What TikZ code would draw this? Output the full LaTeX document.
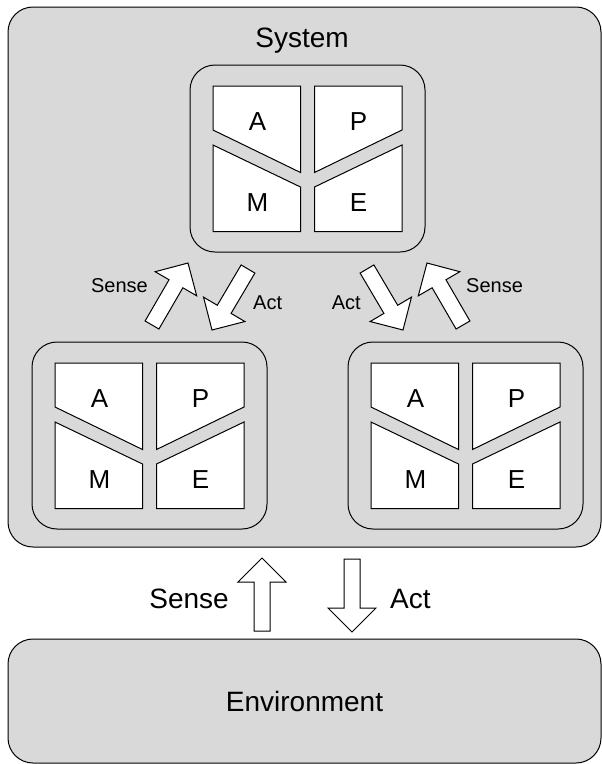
\documentclass[tikz,border=0pt]{standalone}
\usepackage{fontspec}
\setmainfont{Liberation Sans}
\usetikzlibrary{calc}
\definecolor{panel}{gray}{0.85}

\tikzset{
  panelbox/.style={draw=black, fill=panel, line width=1pt, rounded corners=25pt, inner sep=0pt},
  modbox/.style={draw=black, fill=panel, line width=1pt, rounded corners=25pt,
    minimum width=235pt, minimum height=187pt, inner sep=0pt},
  quad/.style={draw=black, fill=white, line width=1pt, line join=miter},
  letter/.style={font=\fontsize{26}{26}\selectfont, anchor=base, inner sep=0pt},
  smalllabel/.style={font=\fontsize{20}{20}\selectfont, inner sep=0pt},
  biglabel/.style={font=\fontsize{28}{28}\selectfont, inner sep=0pt},
  blockarr/.style={draw=black, fill=white, line width=1pt, line join=miter},
}

% one A/P/M/E module: name, left edge, top edge
\newcommand\apmemodule[3]{%
  \begin{scope}[shift={(#2,#3)}]
    \node[modbox] (#1) at (117.5,93.5) {};
    \draw[quad] (23,21) -- (110.5,21) -- (110.5,107.5) -- (23,65) -- cycle;
    \draw[quad] (23,80) -- (110.5,122) -- (110.5,166.5) -- (23,166.5) -- cycle;
    \draw[quad] (124.5,21) -- (212,21) -- (212,65) -- (124.5,107.5) -- cycle;
    \draw[quad] (124.5,122) -- (212,80) -- (212,166.5) -- (124.5,166.5) -- cycle;
    \node[letter] (#1-a) at (67.5,65.5) {A};
    \node[letter] (#1-p) at (168.5,65.5) {P};
    \node[letter] (#1-m) at (67.5,146.5) {M};
    \node[letter] (#1-e) at (168.5,146.5) {E};
  \end{scope}}

% hollow block arrow from tail coordinate #1 to tip coordinate #2
\newcommand\blockarrow[2]{%
  \coordinate (#1-#2-s) at ($(#2)!24pt!(#1)$);
  \draw[blockarr] ($(#1)!8pt!90:(#2)$) -- ($(#1-#2-s)!8pt!90:(#2)$)
    -- ($(#1-#2-s)!24pt!90:(#2)$) -- (#2) -- ($(#1-#2-s)!24pt!-90:(#2)$)
    -- ($(#1-#2-s)!8pt!-90:(#2)$) -- ($(#1)!8pt!-90:(#2)$) -- cycle;}

\begin{document}
\begin{tikzpicture}[x=1pt, y=-1pt]
  \useasboundingbox (0,0) rectangle (602,764);

  % outer system and environment
  \node[panelbox, minimum width=593pt, minimum height=540pt] (system) at (304.5,277) {};
  \node[biglabel, anchor=base] (systitle) at (302,47) {System};
  \node[panelbox, biglabel, minimum width=593pt, minimum height=124pt] (env) at (304.5,701) {Environment};

  % modules
  \apmemodule{top}{190}{65}
  \apmemodule{left}{32}{342}
  \apmemodule{right}{348}{342}

  % arrow end points
  \coordinate (lsT) at (152,325); \coordinate (lsH) at (188,263);
  \coordinate (laT) at (248,269); \coordinate (laH) at (212,330);
  \coordinate (raT) at (367,269); \coordinate (raH) at (403,330);
  \coordinate (rsT) at (463,325); \coordinate (rsH) at (427,263);
  \coordinate (esT) at (262,631); \coordinate (esH) at (262,558);
  \coordinate (eaT) at (352,559); \coordinate (eaH) at (352,632);

  \blockarrow{lsT}{lsH}
  \blockarrow{laT}{laH}
  \blockarrow{raT}{raH}
  \blockarrow{rsT}{rsH}
  \blockarrow{esT}{esH}
  \blockarrow{eaT}{eaH}

  % arrow labels
  \node[smalllabel, anchor=base east] (lsL) at (148,292) {Sense};
  \node[smalllabel, anchor=base west] (laL) at (253,309) {Act};
  \node[smalllabel, anchor=base east] (raL) at (361,309) {Act};
  \node[smalllabel, anchor=base west] (rsL) at (466,292) {Sense};
  \node[biglabel, anchor=base east] (esL) at (229,608) {Sense};
  \node[biglabel, anchor=base west] (eaL) at (390,608) {Act};
\end{tikzpicture}
\end{document}
